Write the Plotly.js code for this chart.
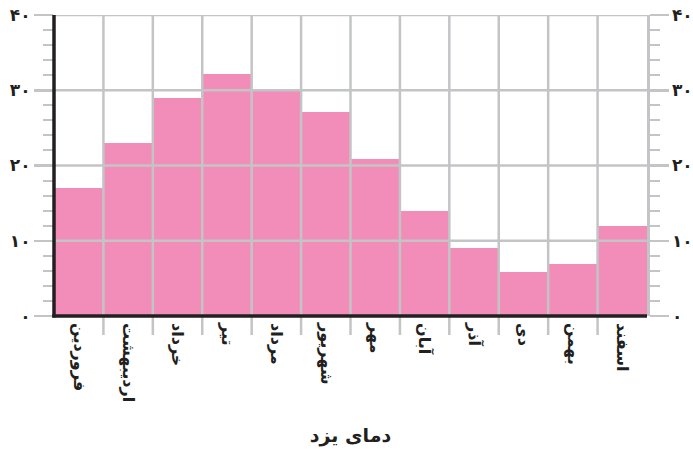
<!DOCTYPE html>
<html><head><meta charset="utf-8">
<script src="https://cdn.plot.ly/plotly-3.0.1.min.js"></script>
<style>html,body{margin:0;padding:0;background:#fff}</style>
</head><body>
<div id="chart" style="width:693px;height:453px"></div>
<script>
const months = ["فروردین","اردیبهشت","خرداد","تیر","مرداد","شهریور","مهر","آبان","آذر","دی","بهمن","اسفند"];
const temps = [17.0, 23.0, 29.0, 32.2, 29.9, 27.1, 20.9, 14.0, 9.0, 5.8, 6.9, 12.0];
const yTickVals = [0, 10, 20, 30, 40];
const yTickText = ["۰", "۱۰", "۲۰", "۳۰", "۴۰"];
const xTitle = "دمای یزد";

const grey = "#c3c4c6";
const black = "#231f20";
const pink = "#f28db9";
const font = {family: "DejaVu Sans", size: 17, color: black, weight: "bold"};

const shapes = [];
for (let i = 1; i < months.length; i++) {
  shapes.push({type: "line", layer: "above", xref: "x", yref: "paper", x0: i - 0.5, x1: i - 0.5, y0: -0.063, y1: 1,
    line: {color: grey, width: 2.5}});
}
yTickVals.slice(1).forEach(v => {
  shapes.push({type: "line", layer: "above", xref: "paper", yref: "y", x0: 0, x1: 1, y0: v, y1: v,
    line: {color: grey, width: 2.5}});
});
shapes.push({type: "line", layer: "above", xref: "paper", yref: "paper", x0: 0, x1: 0, y0: -0.005, y1: 1,
  line: {color: black, width: 3.5}});
shapes.push({type: "line", layer: "above", xref: "paper", yref: "paper", x0: -0.003, x1: 1, y0: 0, y1: 0,
  line: {color: black, width: 3.5}});

const yCommon = {
  range: [0, 40], tickvals: yTickVals, ticktext: yTickText,
  ticks: "outside", ticklen: 19, tickwidth: 2.5, tickcolor: grey,
  minor: {dtick: 2, ticks: "outside", ticklen: 10, tickwidth: 2, tickcolor: grey, showgrid: false},
  showgrid: false, zeroline: false, fixedrange: true,
  tickfont: font
};

const data = [
  {type: "bar", x: months, y: temps, marker: {color: pink, line: {width: 0}}, hoverinfo: "skip"},
  {type: "bar", x: months, y: temps, yaxis: "y2", marker: {color: "rgba(0,0,0,0)"}, hoverinfo: "skip", showlegend: false}
];

const layout = {
  width: 693, height: 453,
  margin: {l: 54, r: 46, t: 15, b: 137},
  paper_bgcolor: "#fff", plot_bgcolor: "#fff",
  showlegend: false, bargap: 0, barmode: "overlay",
  xaxis: {
    type: "category", tickangle: 90, ticks: "", ticklabelstandoff: 6, showgrid: false, showline: false, zeroline: false,
    tickfont: {family: "DejaVu Sans", size: 16, color: black, weight: "bold"},
    title: {text: xTitle, font: {family: "DejaVu Sans", size: 19, color: black, weight: "bold"}, standoff: 27},
    range: [-0.5, 11.5], fixedrange: true
  },
  yaxis: Object.assign({}, yCommon, {side: "left", showline: false}),
  yaxis2: Object.assign({}, yCommon, {side: "right", overlaying: "y", showline: true, linecolor: grey, linewidth: 2.5}),
  shapes: shapes
};

Plotly.newPlot("chart", data, layout, {displayModeBar: false, staticPlot: true});
</script>
</body></html>
